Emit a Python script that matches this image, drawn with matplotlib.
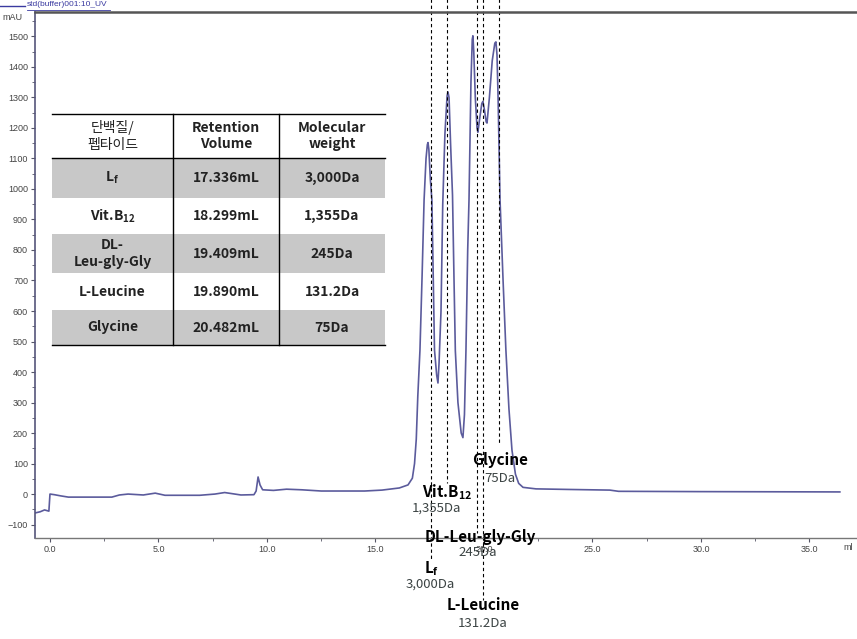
import matplotlib
matplotlib.use('Agg')
import matplotlib.pyplot as plt
from matplotlib.lines import Line2D
from matplotlib.patches import Rectangle
from matplotlib.ticker import MultipleLocator

plt.rcParams['font.family'] = ['Noto Sans CJK KR', 'DejaVu Sans']
plt.rcParams['mathtext.default'] = 'regular'

# chromatogram (elution volume mL, absorbance mAU)
elution_ml = [-0.69, -0.45, -0.25, -0.05, 0.0, 0.2, 0.5, 0.85, 2.85, 3.2, 3.6, 4.3, 4.85, 5.3,
              6.9, 7.6, 8.05, 8.8, 9.4, 9.5, 9.59, 9.68, 9.8, 10.3, 10.9, 11.6, 12.5, 14.5,
              15.3, 16.1, 16.5, 16.7, 16.8, 16.88, 16.95, 17.05, 17.15, 17.24, 17.33, 17.39,
              17.42, 17.46, 17.53, 17.6, 17.72, 17.82, 17.88, 17.93, 18.02, 18.1, 18.2, 18.3,
              18.34, 18.39, 18.46, 18.55, 18.62, 18.68, 18.8, 18.95, 19.03, 19.1, 19.17, 19.25,
              19.31, 19.4, 19.46, 19.49, 19.53, 19.6, 19.68, 19.72, 19.8, 19.9, 19.95, 20.02,
              20.1, 20.14, 20.25, 20.38, 20.5, 20.55, 20.6, 20.65, 20.74, 20.88, 21.01, 21.15,
              21.29, 21.45, 21.6, 21.8, 22.4, 24.0, 25.8, 26.2, 30.0, 36.4]
absorbance_mau = [-62, -58, -52, -56, 0, -2, -6, -10, -10, -3, 0, -3, 3, -4,
                  -4, 0, 5, -3, -2, 10, 56, 30, 14, 12, 16, 14, 10, 10,
                  13, 20, 30, 52, 100, 180, 320, 472, 720, 964, 1100, 1145,
                  1152, 1130, 1030, 964, 472, 390, 364, 430, 600, 950, 1180, 1305,
                  1318, 1300, 1150, 980, 700, 470, 300, 200, 185, 260, 472, 800,
                  964, 1350, 1490, 1502, 1450, 1300, 1200, 1186, 1230, 1280, 1287, 1260,
                  1220, 1216, 1300, 1420, 1478, 1482, 1440, 1300, 964, 700, 472, 280,
                  144, 65, 35, 22, 17, 15, 13, 9, 8, 7]

# dashed marker lines (mL) and where each one stops (mAU)
mark_names = ['Lf', 'Vit.B12', 'DL-Leu-gly-Gly', 'L-Leucine', 'Glycine']
mark_ml = [17.56, 18.29, 19.68, 19.95, 20.69]
mark_end = [-216, 36, -128, -348, 161]

labels_main = ['L$_{f}$', 'Vit.B$_{12}$', 'DL-Leu-gly-Gly', 'L-Leucine', 'Glycine']
labels_mw = ['3,000Da', '1,355Da', '245Da', '131.2Da', '75Da']
label_x = [17.6, 18.29, 19.82, 19.95, 20.74]
label_y = [-243, 7, -141, -364, 111]
mw_x = [17.51, 17.83, 19.72, 19.95, 20.74]
mw_y = [-295, -46, -193, -423, 52]

# table contents
tbl_header = ['단백질/\n펩타이드', 'Retention\nVolume', 'Molecular\nweight']
tbl_names = ['L$_{f}$', 'Vit.B$_{12}$', 'DL-\nLeu-gly-Gly', 'L-Leucine', 'Glycine']
tbl_volume = ['17.336mL', '18.299mL', '19.409mL', '19.890mL', '20.482mL']
tbl_mw = ['3,000Da', '1,355Da', '245Da', '131.2Da', '75Da']

W, H = 857, 639
fig = plt.figure(figsize=(W / 100, H / 100), dpi=100)
ax = fig.add_axes([35 / W, 1 - 538 / H, 1 - 35 / W, 526 / H])

ax.plot(elution_ml, absorbance_mau, color='#5b5b9c', lw=1.2)
ax.set_xlim(-0.69, 37.19)
ax.set_ylim(-144, 1580)

ax.xaxis.set_major_locator(MultipleLocator(5))
ax.xaxis.set_minor_locator(MultipleLocator(2.5))
ax.yaxis.set_major_locator(MultipleLocator(100))
ax.yaxis.set_minor_locator(MultipleLocator(50))
ax.set_xticks([0, 5, 10, 15, 20, 25, 30, 35])
ax.set_xticklabels(['0.0', '5.0', '10.0', '15.0', '20.0', '25.0', '30.0', '35.0'])
ax.set_yticks(range(-100, 1501, 100))
ax.tick_params(axis='both', which='major', labelsize=6.5, labelcolor='#444444',
               color='#555566', length=3, width=0.8, pad=2)
ax.tick_params(axis='both', which='minor', color='#555566', length=2, width=0.6)
for lab in ax.get_xticklabels() + ax.get_yticklabels():
    lab.set_family(['Liberation Sans', 'DejaVu Sans'])

ax.spines['right'].set_visible(False)
ax.spines['top'].set_color('#555555')
ax.spines['top'].set_linewidth(1.8)
ax.spines['left'].set_color('#55557a')
ax.spines['left'].set_linewidth(1.2)
ax.spines['bottom'].set_color('#777777')
ax.spines['bottom'].set_linewidth(1.0)

# dashed guide lines going up past the frame
for m, e in zip(mark_ml, mark_end):
    ax.plot([m, m], [1640, e], color='black', lw=0.8, ls=(0, (3, 2.5)), clip_on=False)

for i in range(len(mark_names)):
    ax.text(label_x[i], label_y[i], labels_main[i], ha='center', va='center', fontsize=11,
            fontweight='bold', color='black', clip_on=False)
    ax.text(mw_x[i], mw_y[i], labels_mw[i], ha='center', va='center', fontsize=9.5,
            color='#3c4444', clip_on=False)

# header legend line and axis captions
fig.add_artist(Line2D([0, 25 / W], [1 - 6 / H, 1 - 6 / H], color='#3a3aa0', lw=1))
fig.text(27 / W, 1 - 5 / H, 'std(buffer)001:10_UV', fontsize=6, color='#3a3aa0',
         va='center', ha='left', family=['Liberation Sans', 'DejaVu Sans'])
fig.add_artist(Line2D([27 / W, 110 / W], [1 - 10 / H, 1 - 10 / H], color='#3a3aa0', lw=0.6))
fig.text(2 / W, 1 - 17 / H, 'mAU', fontsize=6.5, color='#444444', va='center',
         family=['Liberation Sans', 'DejaVu Sans'])
fig.text(843 / W, 1 - 547 / H, 'ml', fontsize=6.5, color='#444444', va='center',
         family=['Liberation Sans', 'DejaVu Sans'])

# table drawn in pixel layout
col_x = [52, 173, 279, 385]
row_y = [114, 158, 198, 234, 273, 310, 345]


def fx(x):
    return x / W


def fy(y):
    return 1 - y / H


for r in range(5):
    if r % 2 == 0:
        fig.add_artist(Rectangle((fx(col_x[0]), fy(row_y[r + 2])), fx(col_x[3] - col_x[0]),
                                 (row_y[r + 2] - row_y[r + 1]) / H, facecolor='#c8c8c8',
                                 edgecolor='none'))
for yy in [row_y[0], row_y[1], row_y[6]]:
    fig.add_artist(Line2D([fx(col_x[0]), fx(col_x[3])], [fy(yy), fy(yy)], color='black', lw=1))
for xx in col_x[1:3]:
    fig.add_artist(Line2D([fx(xx), fx(xx)], [fy(row_y[0]), fy(row_y[6])], color='black', lw=1))

for c in range(3):
    cx = fx((col_x[c] + col_x[c + 1]) / 2)
    cy = fy((row_y[0] + row_y[1]) / 2)
    fig.text(cx, cy, tbl_header[c], ha='center', va='center', fontsize=10,
             color='#222222', linespacing=1.25,
             fontweight='normal' if c == 0 else 'bold')
    cols = [tbl_names, tbl_volume, tbl_mw][c]
    for r in range(5):
        cy = fy((row_y[r + 1] + row_y[r + 2]) / 2)
        fig.text(cx, cy, cols[r], ha='center', va='center', fontsize=10,
                 fontweight='bold', color='#222222', linespacing=1.2)

plt.savefig('out.png', dpi=100)
